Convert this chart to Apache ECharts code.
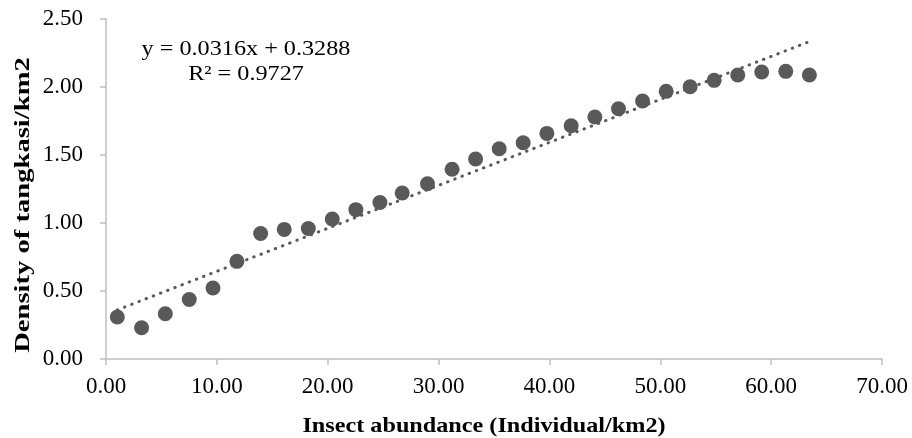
<!DOCTYPE html>
<html><head><meta charset="utf-8">
<script src="https://cdn.jsdelivr.net/npm/echarts@6/dist/echarts.min.js"></script>
<style>html,body{margin:0;padding:0;background:#fff}#c{width:912px;height:438px}</style>
</head><body><div id="c"></div>
<script>
var xValues = [1.02,3.21,5.35,7.51,9.65,11.81,13.95,16.08,18.25,20.41,22.54,24.71,26.72,29.0,31.22,33.34,35.47,37.63,39.77,41.96,44.1,46.23,48.4,50.53,52.69,54.86,56.99,59.15,61.32,63.45];
var yValues = [0.309,0.230,0.333,0.438,0.522,0.718,0.923,0.953,0.960,1.029,1.098,1.151,1.221,1.289,1.395,1.471,1.546,1.590,1.659,1.715,1.779,1.840,1.897,1.968,2.002,2.049,2.088,2.110,2.115,2.088];
var trendSlope = 0.0316, trendIntercept = 0.3288;
var xTitle = 'Insect abundance (Individual/km2)';
var yTitle = 'Density of tangkasi/km2';
var eqText = 'y = 0.0316x + 0.3288';
var r2Text = 'R² = 0.9727';

var pts = xValues.map(function(x,i){return [x,yValues[i]];});
var xmin = Math.min.apply(null,xValues), xmax = Math.max.apply(null,xValues);
var trend = [[xmin, trendSlope*xmin+trendIntercept],[xmax, trendSlope*xmax+trendIntercept]];
var font = '"Liberation Serif","Times New Roman",serif';
var col = '#595959';
var chart = echarts.init(document.getElementById('c'));
chart.setOption({
  animation:false,
  backgroundColor:'#fff',
  grid:{left:106,right:30,top:19,bottom:79,containLabel:false},
  xAxis:{type:'value',min:0,max:70,interval:10,
    axisLine:{show:true,lineStyle:{color:'#bfbfbf',width:1.5}},
    axisTick:{show:true,length:6,lineStyle:{color:'#bfbfbf',width:1.5}},
    splitLine:{show:false},
    axisLabel:{formatter:function(v){return v.toFixed(2);},color:'#000',fontFamily:font,fontSize:23,margin:16}},
  yAxis:{type:'value',min:0,max:2.5,interval:0.5,
    axisLine:{show:true,lineStyle:{color:'#bfbfbf',width:1.5}},
    axisTick:{show:true,length:6,lineStyle:{color:'#bfbfbf',width:1.5}},
    splitLine:{show:false},
    axisLabel:{formatter:function(v){return v.toFixed(2);},color:'#000',fontFamily:font,fontSize:23,margin:23}},
  graphic:[
    {type:'text',x:484,y:426,scaleX:1.1,style:{text:xTitle,font:'bold 22px '+font,fill:'#000',textAlign:'center',textVerticalAlign:'middle'}},
    {type:'text',x:23,y:205,rotation:Math.PI/2,scaleX:1.3,style:{text:yTitle,font:'bold 22px '+font,fill:'#000',textAlign:'center',textVerticalAlign:'middle'}},
    {type:'text',x:246,y:49,scaleX:1.1,style:{text:eqText,font:'22px '+font,fill:'#000',textAlign:'center',textVerticalAlign:'middle'}},
    {type:'text',x:246,y:74,scaleX:1.1,style:{text:r2Text,font:'22px '+font,fill:'#000',textAlign:'center',textVerticalAlign:'middle'}}
  ],
  series:[
    {type:'line',data:trend,symbol:'none',silent:true,z:1,
      lineStyle:{color:col,width:3,type:[0.5,7.2],cap:'round'}},
    {type:'scatter',data:pts,symbol:'circle',symbolSize:15,z:2,itemStyle:{color:col,opacity:1}}
  ]
});
</script></body></html>
